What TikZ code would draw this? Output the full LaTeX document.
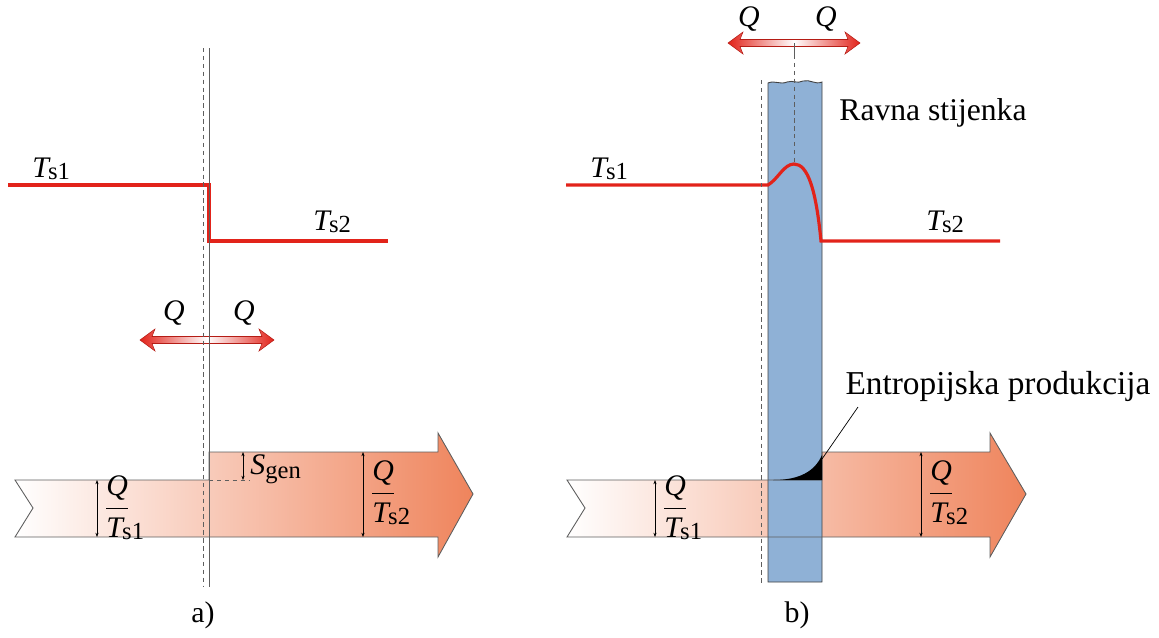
\documentclass[tikz,border=0pt]{standalone}
\usepackage{fontspec}
\setmainfont{Liberation Serif}
\usetikzlibrary{arrows.meta}
\definecolor{crvena}{HTML}{E2231A}
\definecolor{plava}{HTML}{8FB1D6}
\definecolor{narancasta}{HTML}{EF845C}
\definecolor{siva}{HTML}{5E5E5E}
\newcommand{\Tind}[1]{{\itshape T}\kern-0.5pt\raisebox{-0.2ex}{\fontsize{14}{14}\selectfont s#1}}
\newcommand{\kvoc}[1]{$\displaystyle\frac{\mbox{\itshape Q}}{\mbox{\rlap{\Tind{#1}}\phantom{\itshape Q}}}$}

\begin{document}
\begin{tikzpicture}[
  x=0.02cm, y=-0.02cm,
  font=\fontsize{17}{20}\selectfont,
  oznaka/.style={inner sep=0pt},
  temp/.style={crvena, line width=1.8pt},
  traka/.style={draw=siva, line width=0.5pt},
  kota/.style={{Stealth[length=2.4pt,width=1.8pt]}-{Stealth[length=2.4pt,width=1.8pt]}, line width=0.4pt},
  isprek/.style={siva, line width=0.5pt, dash pattern=on 2.5pt off 2pt},
  qstr/.style={draw=crvena!80!black, line width=0.3pt, left color=crvena, right color=crvena, middle color=white}
]
  \useasboundingbox (0,0) rectangle (1159,637);

  % --- a) tok entropije kroz granicu
  \draw[traka, left color=white, right color=narancasta]
        (15,480) -- (209,480) -- (209,452) -- (438,452) -- (438,433) -- (473,494)
        -- (438,557) -- (438,537) -- (15,537) -- (33,508) -- cycle;
  \draw[isprek] (209,480) -- (250,480);

  % temperatura
  \draw[temp] (8,185) -- (209,185) -- (209,241) -- (388,241);

  % toplina Q
  \begin{scope}[shift={(207,340)}]
    \draw[qstr] (-67,0) -- (-52,-11) -- (-55,-3.5) -- (55,-3.5) -- (52,-11) -- (67,0)
          -- (52,11) -- (55,3.5) -- (-55,3.5) -- (-52,11) -- cycle;
  \end{scope}

  % granica
  \draw[isprek] (203,48) -- (203,587);
  \draw[siva, line width=0.5pt] (209,48) -- (209,587);

  % kote
  \coordinate (a1g) at (97,480);  \coordinate (a1d) at (97,537);
  \coordinate (a2g) at (363,452); \coordinate (a2d) at (363,537);
  \coordinate (sgg) at (243,452); \coordinate (sgd) at (243,480);
  \draw[kota] (a1g) -- (a1d);
  \draw[kota] (a2g) -- (a2d);
  \draw[kota] (sgg) -- (sgd);

  \node[oznaka, anchor=base west] (ts1a) at (32,177) {\Tind{1}};
  \node[oznaka, anchor=base west] (ts2a) at (313,230) {\Tind{2}};
  \node[oznaka] (qla) at (174,313) {\itshape Q};
  \node[oznaka] (qda) at (244,313) {\itshape Q};
  \node[oznaka, anchor=west] (kv1a) at (104,509) {\kvoc{1}};
  \node[oznaka, anchor=west] (kv2a) at (370,494) {\kvoc{2}};
  \node[oznaka, anchor=west] (sgen) at (250,469)
        {{\itshape S}\raisebox{-0.3ex}{\fontsize{14}{14}\selectfont gen}};
  \node[oznaka] (lba) at (203,615) {a)};

  % --- b) ravna stijenka
  \path[left color=white, right color=narancasta]
        (567,480) -- (822,480) -- (822,452) -- (990,452) -- (990,433) -- (1026,494)
        -- (990,557) -- (990,537) -- (567,537) -- (585,508) -- cycle;
  \draw[fill=plava, draw=black!75, line width=0.5pt]
        (768,582) -- (768,83) .. controls (775,80) and (780,85) .. (787,82)
        .. controls (793,80) and (797,84) .. (803,81)
        .. controls (810,79) and (815,85) .. (822,82) -- (822,582) -- cycle;
  \draw[traka]
        (567,480) -- (822,480) -- (822,452) -- (990,452) -- (990,433) -- (1026,494)
        -- (990,557) -- (990,537) -- (567,537) -- (585,508) -- cycle;

  % produkcija entropije
  \fill[black] (773,480) .. controls (800,480) and (815,471) .. (822,455) -- (822,480) -- cycle;

  % temperatura
  \draw[temp] (566,185) -- (768,185) .. controls (778,179) and (784,164) .. (794,164)
        .. controls (808,164) and (816,190) .. (821,241) -- (1000,241);

  % toplina Q
  \begin{scope}[shift={(794,43)}]
    \draw[qstr] (-66,0) -- (-51,-11) -- (-54,-3.5) -- (54,-3.5) -- (51,-11) -- (66,0)
          -- (51,11) -- (54,3.5) -- (-54,3.5) -- (-51,11) -- cycle;
  \end{scope}
  \draw[isprek] (761,80) -- (761,585);
  \draw[siva, line width=0.5pt] (794,43) -- (794,55);
  \draw[isprek] (794,55) -- (794,164);

  % kote
  \coordinate (b1g) at (655,480); \coordinate (b1d) at (655,537);
  \coordinate (b2g) at (921,452); \coordinate (b2d) at (921,537);
  \draw[kota] (b1g) -- (b1d);
  \draw[kota] (b2g) -- (b2d);

  \node[oznaka, anchor=base west] (ts1b) at (590,177) {\Tind{1}};
  \node[oznaka, anchor=base west] (ts2b) at (926,230) {\Tind{2}};
  \node[oznaka] (qlb) at (749,19) {\itshape Q};
  \node[oznaka] (qdb) at (826,19) {\itshape Q};
  \node[oznaka, anchor=west] (kv1b) at (662,509) {\kvoc{1}};
  \node[oznaka, anchor=west] (kv2b) at (928,494) {\kvoc{2}};
  \node[oznaka, font=\fontsize{18}{21}\selectfont] (ravna) at (933,113) {Ravna stijenka};
  \node[oznaka, anchor=base, font=\fontsize{19}{22}\selectfont] (entro) at (998,394)
        {Entropijska produkcija};
  \coordinate (vrh) at (822,459);
  \coordinate (vodic) at (858,407);
  \draw[line width=0.4pt] (vrh) -- (vodic);
  \node[oznaka] (lbb) at (797,615) {b)};
\end{tikzpicture}
\end{document}
